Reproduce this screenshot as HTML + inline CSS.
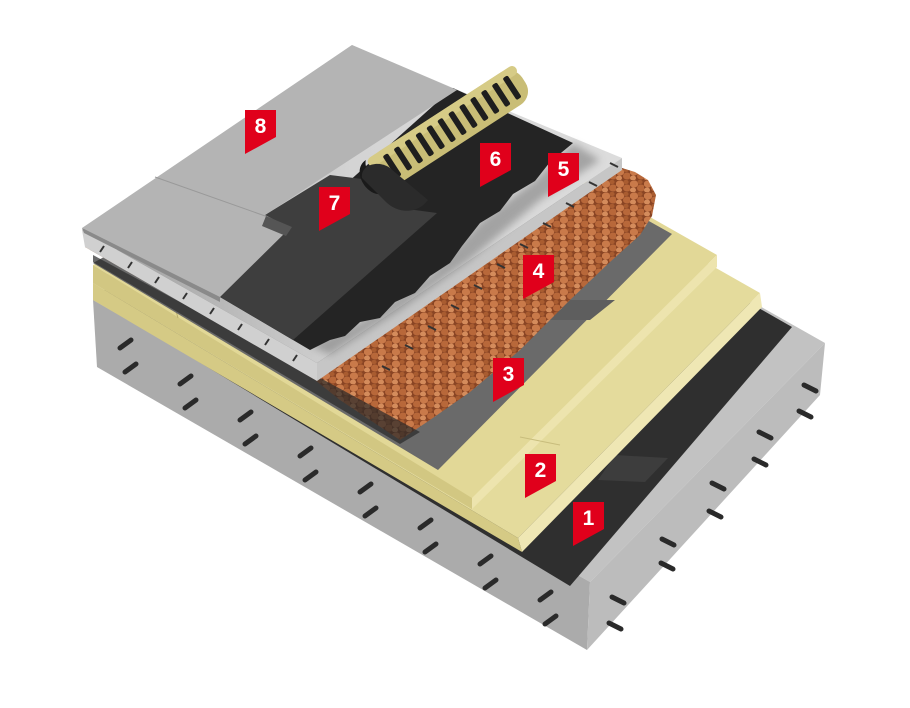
<!DOCTYPE html>
<html><head><meta charset="utf-8"><style>
html,body{margin:0;padding:0;background:#fff;}
svg{display:block;}
text{font-family:"Liberation Sans",sans-serif;font-weight:bold;fill:#fff;font-size:21px;text-anchor:middle;}
</style></head><body>
<svg width="910" height="708" viewBox="0 0 910 708" xmlns="http://www.w3.org/2000/svg">
<defs>
<pattern id="gran" width="14" height="12" patternUnits="userSpaceOnUse">
<rect width="14" height="12" fill="#8a4524"/>
<ellipse cx="4" cy="4" rx="4.2" ry="3.6" fill="#c97a4a"/>
<ellipse cx="11" cy="8" rx="4" ry="3.5" fill="#b8683a"/>
<ellipse cx="3" cy="10" rx="3" ry="2.5" fill="#d48c5c"/>
<ellipse cx="10" cy="2" rx="2.6" ry="2.2" fill="#a95c30"/>
</pattern>
<linearGradient id="scr" x1="0" y1="0" x2="1" y2="0">
<stop offset="0" stop-color="#9a9a9a"/><stop offset="0.5" stop-color="#d4d4d4"/><stop offset="1" stop-color="#dcdcdc"/>
</linearGradient>
<filter id="bl"><feGaussianBlur stdDeviation="4"/></filter>
</defs>

<!-- Slab -->
<polygon points="93,300 590,582 825,343 560,193 300,150" fill="#c2c2c2"/>
<polygon points="93,300 590,582 587,650 97,367" fill="#ababab"/>
<polygon points="590,582 825,343 820,395 587,650" fill="#bcbcbc"/>
<!-- Layer 1 dark -->
<polygon points="93,298 570,586 792,327 560,195 300,150" fill="#2f2f2f"/>
<polygon points="615,455 668,458 645,482 598,480" fill="#3d3d3d"/>
<!-- Lower insulation -->
<polygon points="93,283 518,538 760,293 561,180 300,150" fill="#e4db9c"/>
<polygon points="518,538 760,293 762,307 522,552" fill="#efe7b4"/>
<polygon points="93,283 518,538 522,552 93,300" fill="#d5ca85"/>
<!-- Upper insulation -->
<polygon points="93,265 472,498 717,255 560,166 300,150" fill="#e2d897"/>
<polygon points="472,498 717,255 717,267 472,509" fill="#ede4ae"/>
<polygon points="93,265 472,498 472,509 93,283" fill="#d2c782"/>
<line x1="170" y1="290" x2="178" y2="318" stroke="#b8ad6c" stroke-width="1"/>
<line x1="520" y1="437" x2="560" y2="445" stroke="#c8bd7c" stroke-width="1"/>
<!-- Gray layer 3 -->
<polygon points="93,263 438,470 672,234 560,171 300,150" fill="#6a6a6a"/>
<polygon points="565,300 615,300 590,320 540,320" fill="#5e5e5e"/>
<!-- Granules -->
<path d="M93,245 L315,380 L340,400 L370,420 L400,440 L430,420 L470,392 L520,350 L570,300 L610,262 L640,235 L652,216 L656,195 L648,180 L635,172 L622,168 L317,380 L85,247 Z" fill="url(#gran)"/>
<path d="M93,262 L400,444 L420,432 L93,255 Z" fill="#2a2a2a" opacity="0.7"/>
<!-- White screed -->
<polygon points="82,230 317,363 622,158 453,88 352,45" fill="url(#scr)"/>
<polygon points="317,363 622,158 622,170 317,381" fill="#c6c6c6"/>
<polygon points="82,230 317,363 317,381 85,247" fill="#d0d0d0"/>
<path d="M310,345 L360,322 L430,275 L480,222 L535,180 L573,143 L600,160 L540,200 L470,260 L400,310 L330,355 Z" fill="#777" opacity="0.55" filter="url(#bl)"/>
<!-- Layer 6 dark -->
<polygon points="220,297 293,340 310,350 330,340 345,336 360,322 380,318 395,302 415,293 430,276 450,263 462,246 480,223 500,211 513,194 535,181 550,162 573,143 453,88" fill="#242424"/>
<!-- Layer 7 membrane -->
<polygon points="220,297 293,340 437,213 400,208 370,180 330,175 265,215" fill="#3e3e3e"/>
<!-- Gray top 8 -->
<polygon points="82,228 352,45 457,90 265,215 290,228 220,297" fill="#b4b4b4"/>
<polygon points="82,228 220,297 220,302 84,233" fill="#8a8a8a"/>
<line x1="155" y1="177" x2="268" y2="217" stroke="#999" stroke-width="1"/>
<polygon points="266,216 292,227 286,236 262,226" fill="#555"/>

<!-- Roll -->
<g transform="translate(450,128) rotate(-33)">
<rect x="-88" y="-19" width="176" height="38" rx="16" fill="#c9bd76"/>
<rect x="-88" y="-19" width="176" height="10" rx="5" fill="#d6cb86"/>
<g fill="#1e1e1e">
<rect x="-72" y="-13" width="6" height="26" rx="2"/><rect x="-59" y="-13" width="6" height="26" rx="2"/>
<rect x="-46" y="-13" width="6" height="26" rx="2"/><rect x="-33" y="-13" width="6" height="26" rx="2"/>
<rect x="-20" y="-13" width="6" height="26" rx="2"/><rect x="-7" y="-13" width="6" height="26" rx="2"/>
<rect x="6" y="-13" width="6" height="26" rx="2"/><rect x="19" y="-13" width="6" height="26" rx="2"/>
<rect x="32" y="-13" width="6" height="26" rx="2"/><rect x="45" y="-13" width="6" height="26" rx="2"/>
<rect x="58" y="-13" width="6" height="26" rx="2"/><rect x="71" y="-13" width="6" height="26" rx="2"/>
</g>
<path d="M-88,-19 C-108,-19 -108,19 -88,19 L-66,24 C-92,24 -98,-10 -88,-19 Z" fill="#1a1a1a"/>
</g>
<path d="M362,178 C360,164 380,160 390,168 L428,200 C418,214 398,214 386,202 Z" fill="#2b2b2b"/>

<!-- Rods -->
<g stroke="#2a2a2a" stroke-width="5" stroke-linecap="round">
<line x1="120" y1="348" x2="131" y2="340"/><line x1="125" y1="372" x2="136" y2="364"/>
<line x1="180" y1="384" x2="191" y2="376"/><line x1="185" y1="408" x2="196" y2="400"/>
<line x1="240" y1="420" x2="251" y2="412"/><line x1="245" y1="444" x2="256" y2="436"/>
<line x1="300" y1="456" x2="311" y2="448"/><line x1="305" y1="480" x2="316" y2="472"/>
<line x1="360" y1="492" x2="371" y2="484"/><line x1="365" y1="516" x2="376" y2="508"/>
<line x1="420" y1="528" x2="431" y2="520"/><line x1="425" y1="552" x2="436" y2="544"/>
<line x1="480" y1="564" x2="491" y2="556"/><line x1="485" y1="588" x2="496" y2="580"/>
<line x1="540" y1="600" x2="551" y2="592"/><line x1="545" y1="624" x2="556" y2="616"/>
<line x1="804" y1="385" x2="816" y2="391"/><line x1="799" y1="411" x2="811" y2="417"/>
<line x1="759" y1="432" x2="771" y2="438"/><line x1="754" y1="459" x2="766" y2="465"/>
<line x1="712" y1="483" x2="724" y2="489"/><line x1="709" y1="511" x2="721" y2="517"/>
<line x1="662" y1="539" x2="674" y2="545"/><line x1="661" y1="563" x2="673" y2="569"/>
<line x1="612" y1="597" x2="624" y2="603"/><line x1="609" y1="623" x2="621" y2="629"/>
</g>
<g stroke="#333" stroke-width="2">
<line x1="100" y1="252" x2="104" y2="246"/><line x1="128" y1="268" x2="132" y2="262"/>
<line x1="155" y1="283" x2="159" y2="277"/><line x1="183" y1="299" x2="187" y2="293"/>
<line x1="210" y1="314" x2="214" y2="308"/><line x1="238" y1="330" x2="242" y2="324"/>
<line x1="265" y1="345" x2="269" y2="339"/><line x1="293" y1="361" x2="297" y2="355"/>
<line x1="382" y1="366" x2="390" y2="370"/><line x1="405" y1="345" x2="413" y2="349"/>
<line x1="428" y1="326" x2="436" y2="330"/><line x1="451" y1="305" x2="459" y2="309"/>
<line x1="474" y1="285" x2="482" y2="289"/><line x1="497" y1="264" x2="505" y2="268"/>
<line x1="520" y1="244" x2="528" y2="248"/><line x1="543" y1="223" x2="551" y2="227"/>
<line x1="566" y1="203" x2="574" y2="207"/><line x1="589" y1="182" x2="597" y2="186"/>
<line x1="610" y1="163" x2="618" y2="167"/>
</g>

<!-- Labels -->
<g fill="#e0001b">
<polygon points="245,110 276,110 276,137 245,154"/>
<polygon points="319,187 350,187 350,214 319,231"/>
<polygon points="480,143 511,143 511,170 480,187"/>
<polygon points="548,153 579,153 579,180 548,197"/>
<polygon points="523,255 554,255 554,282 523,299"/>
<polygon points="493,358 524,358 524,385 493,402"/>
<polygon points="525,454 556,454 556,481 525,498"/>
<polygon points="573,502 604,502 604,529 573,546"/>
</g>
<text x="260.5" y="133">8</text>
<text x="334.5" y="210">7</text>
<text x="495.5" y="166">6</text>
<text x="563.5" y="176">5</text>
<text x="538.5" y="278">4</text>
<text x="508.5" y="381">3</text>
<text x="540.5" y="477">2</text>
<text x="588.5" y="525">1</text>
</svg>
</body></html>
